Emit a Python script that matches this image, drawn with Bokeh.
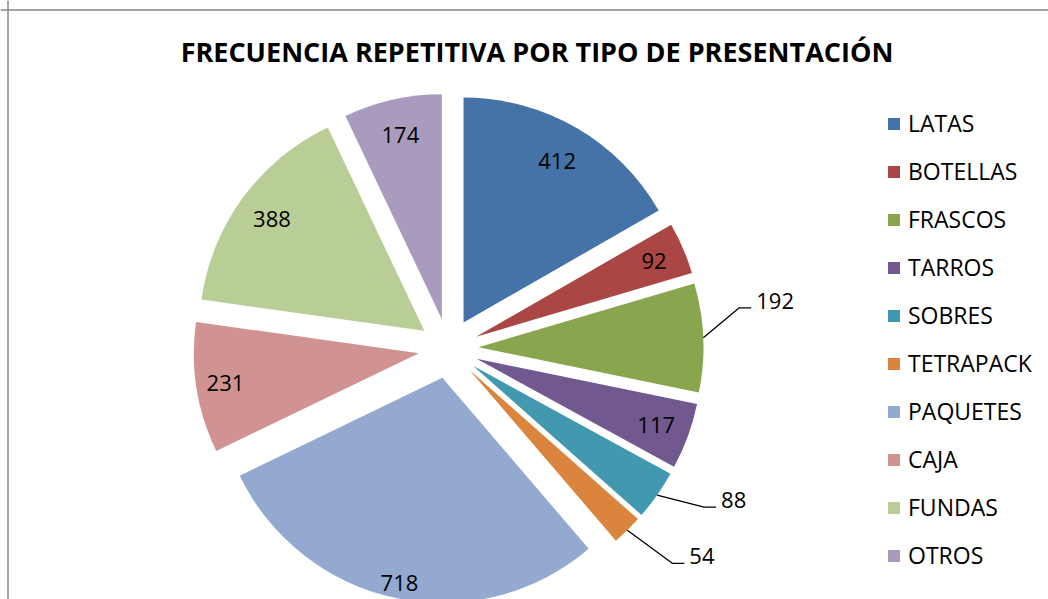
import math
from bokeh.plotting import figure
from bokeh.models import Range1d, Label, Legend, LegendItem, ColumnDataSource, Span
from bokeh.core.properties import value
from bokeh.embed import file_html
from bokeh.resources import INLINE

# ---- data ----
categories = ["LATAS", "BOTELLAS", "FRASCOS", "TARROS", "SOBRES",
              "TETRAPACK", "PAQUETES", "CAJA", "FUNDAS", "OTROS"]
values = [412, 92, 192, 117, 88, 54, 718, 231, 388, 174]
colors = ["#4572A7", "#AA4643", "#89A54E", "#71588F", "#4198AF",
          "#DB843D", "#93A9CF", "#D19392", "#B9CD96", "#A99BBD"]
title_text = "FRECUENCIA REPETITIVA POR TIPO DE PRESENTACIÓN"

# ---- layout (pixel geometry) ----
W, H = 1048, 599
Y0 = 599                      # image y of data y = 0
CX, CY = 448, Y0 - 348        # pie centre
R = 225                       # radius
EXPLODE = 30                  # explosion offset
FONT = "Open Sans"
# label placement: fraction of radius for inside labels, None -> outside with leader
label_frac = [0.83, 0.86, None, 0.85, None, None, 0.93, 0.87, 0.84, 0.84]
# leader elbow offsets (dx, dy in screen px) for outside labels
leader_elbow = {2: (36, -30), 4: (47, 12), 5: (45, 33)}
LEADER_H = 12

total = float(sum(values))
xs, ys, starts, ends = [], [], [], []
in_x, in_y, in_t = [], [], []
out_x, out_y, out_t = [], [], []
lead_xs, lead_ys = [], []
cum = 0.0
for i, v in enumerate(values):
    a0 = cum / total * 2 * math.pi
    cum += v
    a1 = cum / total * 2 * math.pi
    mid = (a0 + a1) / 2
    ox = CX + EXPLODE * math.sin(mid)
    oy = CY + EXPLODE * math.cos(mid)
    xs.append(ox)
    ys.append(oy)
    starts.append(math.pi / 2 - a1)
    ends.append(math.pi / 2 - a0)
    if label_frac[i] is not None:
        f = label_frac[i] * R
        in_x.append(ox + f * math.sin(mid))
        in_y.append(oy + f * math.cos(mid))
        in_t.append(str(v))
    else:
        px = ox + R * math.sin(mid)
        py = oy + R * math.cos(mid)
        ex, ey = leader_elbow[i]
        qx, qy = px + ex, py - ey
        lead_xs.append([px, qx, qx + LEADER_H])
        lead_ys.append([py, qy, qy])
        out_x.append(qx + LEADER_H + 5)
        out_y.append(qy + 7)
        out_t.append(str(v))

src = ColumnDataSource(dict(x=xs, y=ys, start=starts, end=ends,
                            color=colors, cat=categories, val=values))

p = figure(width=W, height=H, x_range=Range1d(0, W), y_range=Range1d(0, H),
           output_backend="svg", toolbar_location=None,
           x_axis_type=None, y_axis_type=None, min_border=0,
           outline_line_color=None)
p.xgrid.visible = False
p.ygrid.visible = False

wedges = p.wedge(x="x", y="y", radius=R, start_angle="start", end_angle="end",
                 fill_color="color", line_color=None, source=src)

p.text(x=in_x, y=in_y, text=in_t, text_font=value(FONT), text_font_size="22px",
       text_align="center", text_baseline="middle", text_color="black")
p.multi_line(xs=lead_xs, ys=lead_ys, line_color="black", line_width=1.3)
p.text(x=out_x, y=out_y, text=out_t, text_font=value(FONT), text_font_size="22px",
       text_align="left", text_baseline="middle", text_color="black")

p.add_layout(Label(x=536.5, y=Y0 - 51, text=title_text, text_font=FONT,
                   text_font_size="27px", text_font_style="bold",
                   text_align="center", text_baseline="middle", text_color="black"))

# chart frame lines (top and left)
p.add_layout(Span(location=Y0 - 9.5, dimension="width", line_color="#868686", line_width=1.5))
p.add_layout(Span(location=7.5, dimension="height", line_color="#868686", line_width=1.5))

legend = Legend(items=[LegendItem(label=c, renderers=[wedges], index=i)
                       for i, c in enumerate(categories)],
                location=(886, 28), orientation="vertical",
                glyph_width=15, glyph_height=15, label_standoff=7,
                label_height=30, spacing=16, padding=0, margin=0,
                label_text_font=FONT, label_text_font_size="23px",
                label_text_color="black",
                border_line_color=None, background_fill_alpha=0)
p.add_layout(legend, "center")

open("out.html", "w").write(file_html(p, INLINE))
